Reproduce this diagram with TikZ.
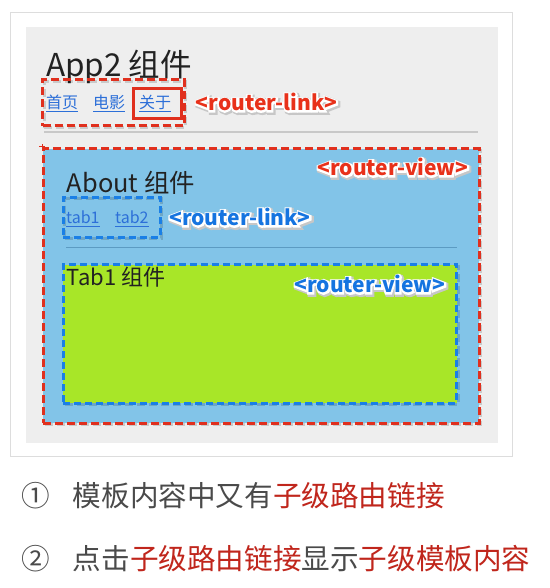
\documentclass[tikz,border=0pt]{standalone}
\usepackage{fontspec}
\setmainfont{Noto Sans CJK SC}
\usetikzlibrary{fit}
\definecolor{framegray}{HTML}{DDDDDD}
\definecolor{panelgray}{HTML}{EEEEEE}
\definecolor{viewblue}{HTML}{82C4E8}
\definecolor{tabgreen}{HTML}{A8E628}
\definecolor{dashred}{HTML}{E0301E}
\definecolor{dashblue}{HTML}{1A7FE6}
\definecolor{linkblue}{HTML}{2C6FD8}
\definecolor{labelred}{HTML}{E8311A}
\definecolor{labelblue}{HTML}{1574E0}
\definecolor{textdark}{HTML}{222222}
\definecolor{notegray}{HTML}{4A4A4A}
\definecolor{notered}{HTML}{C0261C}
\definecolor{sepgray}{HTML}{C8C8C8}
\definecolor{sepblue}{HTML}{5C9BC2}
\newcommand\haloed[2]{%
  \leavevmode
  \rlap{\hspace*{1.3pt}\raisebox{-1.3pt}{\addfontfeatures{FakeBold=24}\textcolor{black!22}{#2}}}%
  \rlap{\addfontfeatures{FakeBold=16}\textcolor{white}{#2}}%
  \textcolor{#1}{#2}}
\begin{document}
\begin{tikzpicture}[x=1pt,y=-1pt,
  area/.style={inner sep=0pt,outer sep=0pt},
  reddash/.style={draw=dashred,line width=3pt,dash pattern=on 8pt off 4pt},
  bluedash/.style={draw=dashblue,line width=3pt,dash pattern=on 7pt off 4pt},
  boxshadow/.style={preaction={draw=black,draw opacity=0.15,line width=3pt,dash pattern=on 8pt off 4pt,transform canvas={shift={(1.6pt,-1.6pt)}}}},
  linktext/.style={anchor=base west,inner sep=0pt,font=\fontsize{16}{16}\selectfont,text=linkblue},
  linkline/.style={draw=linkblue,line width=0.9pt},
  tag/.style={inner sep=0pt,font=\fontsize{21}{21}\selectfont\bfseries},
  sepline/.style={line width=1.2pt},
  heading/.style={anchor=base west,inner sep=0pt,text=textdark},
  note/.style={anchor=base west,inner sep=0pt,font=\fontsize{28.6}{28.6}\selectfont,text=notegray}]
\useasboundingbox (0,0) rectangle (549,588);
\fill[white] (0,0) rectangle (549,588);
% frame and panel
\node[area,fit={(10.7,12.3) (512.3,456.7)},draw=framegray,line width=1pt,fill=white] (frame) {};
\node[area,fit={(25.7,27.3) (498.3,443.3)},fill=panelgray] (panel) {};
% App2
\node[heading,font=\fontsize{31.5}{31.5}\selectfont] (title) at (46,76.5) {App2 组件};
\node[linktext] (l1) at (46,108.5) {首页};
\node[linktext] (l2) at (93,108.5) {电影};
\node[linktext] (l3) at (139,108.5) {关于};
\foreach \n in {l1,l2,l3}{\draw[linkline] ([yshift=-2.5pt]\n.base west) -- ([yshift=-2.5pt]\n.base east);}
\node[area,fit={(42.7,80) (184,126)},reddash,boxshadow] (linkbox) {};
\node[area,fit={(133,89) (181,119)},draw=dashred,line width=3pt] (activebox) {};
\node[tag] (rlink) at (266.5,103) {\haloed{labelred}{<router-link>}};
\coordinate (s1a) at (44,132);
\coordinate (s1b) at (478,132);
\draw[sepline,sepgray] (s1a) -- (s1b);
% router-view (About)
\node[area,fit={(43,149) (479,423)},fill=viewblue,reddash,boxshadow] (view) {};
\coordinate (plus) at (42,147);
\draw[dashred,line width=1pt] ([xshift=-3pt]plus) -- ([xshift=3pt]plus) ([yshift=-3pt]plus) -- ([yshift=3pt]plus);
\node[tag] (rview) at (393,168) {\haloed{labelred}{<router-view>}};
\node[heading,font=\fontsize{25.4}{25.4}\selectfont] (about) at (66.7,192.5) {About 组件};
\node[linktext] (t1) at (66,223) {tab1};
\node[linktext] (t2) at (115,223) {tab2};
\foreach \n in {t1,t2}{\draw[linkline] ([yshift=-3pt]\n.base west) -- ([yshift=-3pt]\n.base east);}
\node[area,fit={(63.3,197.3) (160,237.3)},bluedash,boxshadow] (tabbox) {};
\node[tag] (blink) at (240,218) {\haloed{labelblue}{<router-link>}};
\coordinate (s2a) at (66,247.3);
\coordinate (s2b) at (456.7,247.3);
\draw[sepline,sepblue] (s2a) -- (s2b);
% nested router-view (Tab1)
\node[area,fit={(63.3,264.5) (456.7,403)},fill=tabgreen,bluedash,boxshadow] (tabview) {};
\node[heading,font=\fontsize{22}{22}\selectfont] (tab1) at (66.7,285) {Tab1 组件};
\node[tag] (bview) at (370,285) {\haloed{labelblue}{<router-view>}};
% notes
\node[note] (n1) at (21,506) {①};
\node[note] (n1t) at (72.7,506) {模板内容中又有\textcolor{notered}{子级路由链接}};
\node[note] (n2) at (21,569) {②};
\node[note] (n2t) at (72.7,569) {点击\textcolor{notered}{子级路由链接}显示\textcolor{notered}{子级模板内容}};
\end{tikzpicture}
\end{document}
